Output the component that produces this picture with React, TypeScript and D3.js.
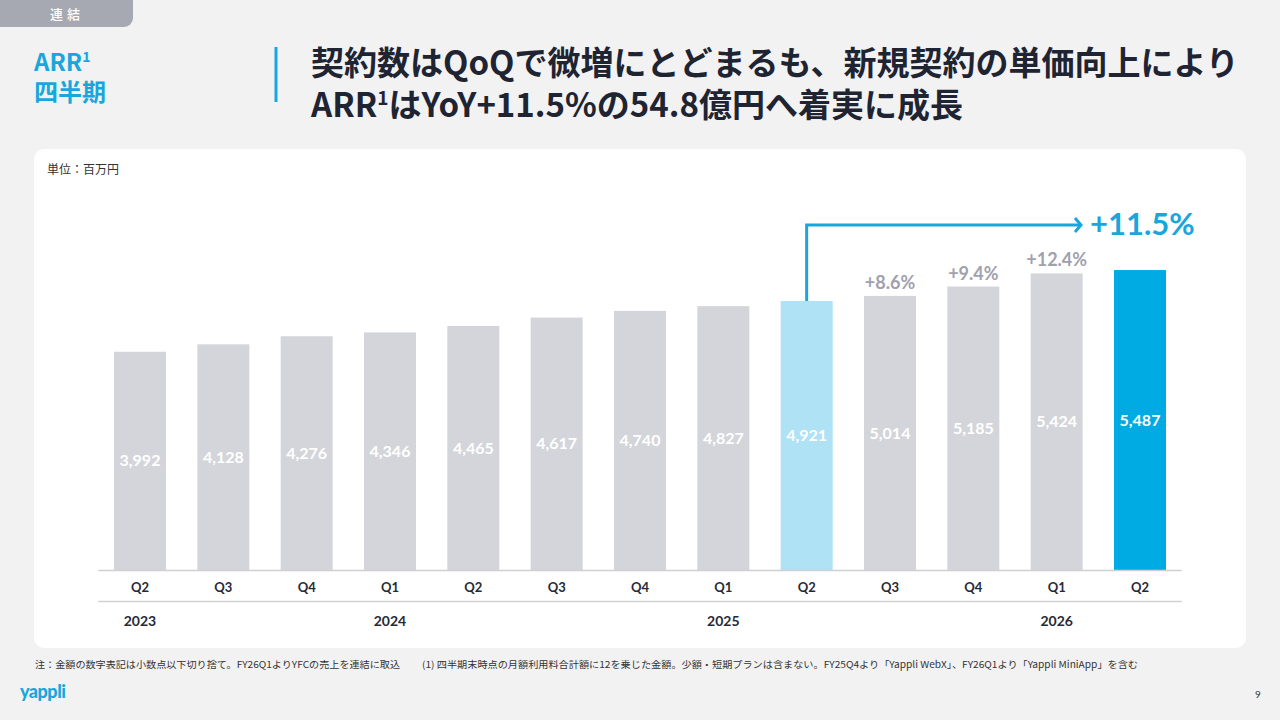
import React from 'react';
import * as d3 from 'd3';

// 四半期ARR（百万円）
const quarters = ['Q2', 'Q3', 'Q4', 'Q1', 'Q2', 'Q3', 'Q4', 'Q1', 'Q2', 'Q3', 'Q4', 'Q1', 'Q2'];
const arrValues = [3992, 4128, 4276, 4346, 4465, 4617, 4740, 4827, 4921, 5014, 5185, 5424, 5487];
const yearLabels = ['2023', '2024', '2025', '2026'];
const yearIndex = [0, 3, 7, 11];
const yoyLabels = ['', '', '', '', '', '', '', '', '', '+8.6%', '+9.4%', '+12.4%', ''];
const headline = '+11.5%';
const baseIndex = 8;
const lastIndex = 12;

const BLUE = '#1aa6dd';
const JP = '"Noto Sans CJK JP", "Noto Sans", sans-serif';
const NUM = 'Lato, "Noto Sans", sans-serif';

const App = () => {
  const x = d3.scaleBand<number>()
    .domain(d3.range(arrValues.length))
    .range([98.33, 1181.67])
    .paddingInner(0.376)
    .paddingOuter(0.188);

  const y = d3.scaleLinear().domain([0, 6000]).range([570, 242]);

  const cx = (i: number) => x(i)! + x.bandwidth() / 2;

  const barColor = (i: number) =>
    i === lastIndex ? '#00abe3' : i === baseIndex ? '#aee2f4' : '#d4d5da';

  const arrowY = 225;
  const arrowEnd = 1081;

  return (
    <svg width={1280} height={720} style={{ position: 'absolute', left: 0, top: 0 }}>
      <rect width={1280} height={720} fill="#f2f2f2" />

      {/* tab */}
      <rect x={-12} y={-12} width={145} height={39} rx={9} fill="#a6a8b2" />
      <text x={67} y={19} textAnchor="middle" fill="#fff" fontFamily={JP} fontWeight={500}
        fontSize={13} letterSpacing={4}>連結</text>

      {/* left heading */}
      <text x={34} y={71} fill={BLUE} fontFamily={JP} fontWeight={700} fontSize={24}>
        ARR<tspan fontSize={14} dy={-9}>1</tspan>
      </text>
      <text x={34} y={101} fill={BLUE} fontFamily={JP} fontWeight={700} fontSize={24}>四半期</text>
      <line x1={276} x2={276} y1={47} y2={102} stroke={BLUE} strokeWidth={3} />

      {/* title */}
      <text x={311} y={75} fill="#1f2433" fontFamily={JP} fontWeight={700} fontSize={33}>
        契約数はQoQで微増にとどまるも、新規契約の単価向上により
      </text>
      <text x={311} y={117} fill="#1f2433" fontFamily={JP} fontWeight={700} fontSize={33}>
        ARR<tspan fontSize={19} dy={-12}>1</tspan><tspan dy={12}>はYoY+11.5%の54.8億円へ着実に成長</tspan>
      </text>

      {/* card */}
      <rect x={34} y={149} width={1212} height={499} rx={10} fill="#ffffff" />
      <text x={47} y={174} fill="#333" fontFamily={JP} fontSize={12}>単位：百万円</text>

      {/* bars */}
      {arrValues.map((v, i) => (
        <rect key={`b${i}`} x={x(i)} y={y(v)} width={x.bandwidth()} height={y(0) - y(v)}
          fill={barColor(i)} />
      ))}
      {arrValues.map((v, i) => (
        <text key={`v${i}`} x={cx(i)} y={(y(v) + y(0)) / 2} dy="0.35em" textAnchor="middle"
          fill="#fff" fontFamily={NUM} fontWeight={700} fontSize={16}>
          {d3.format(',')(v)}
        </text>
      ))}
      {yoyLabels.map((t, i) => t ? (
        <text key={`g${i}`} x={cx(i)} y={y(arrValues[i]) - 7} textAnchor="middle"
          fill="#9fa1ad" fontFamily={NUM} fontWeight={700} fontSize={18}>{t}</text>
      ) : null)}

      {/* YoY arrow */}
      <path d={`M${cx(baseIndex)},${y(arrValues[baseIndex])}V${arrowY}H${arrowEnd}`}
        fill="none" stroke={BLUE} strokeWidth={3} />
      <path d={`M${arrowEnd - 6},${arrowY - 7}L${arrowEnd},${arrowY}L${arrowEnd - 6},${arrowY + 7}`}
        fill="none" stroke={BLUE} strokeWidth={3} />
      <text x={1090} y={235} fill={BLUE} fontFamily={NUM} fontWeight={700} fontSize={31}>{headline}</text>

      {/* axes */}
      <line x1={x.range()[0]} x2={x.range()[1]} y1={570.5} y2={570.5} stroke="#cfd0d4" strokeWidth={1.5} />
      <line x1={x.range()[0]} x2={x.range()[1]} y1={601.5} y2={601.5} stroke="#cfd0d4" strokeWidth={1.5} />
      {quarters.map((q, i) => (
        <text key={`q${i}`} x={cx(i)} y={592} textAnchor="middle" fill="#262a36"
          fontFamily={NUM} fontWeight={700} fontSize={13}>{q}</text>
      ))}
      {yearLabels.map((yl, k) => (
        <text key={`y${k}`} x={cx(yearIndex[k])} y={626} textAnchor="middle" fill="#262a36"
          fontFamily={NUM} fontWeight={700} fontSize={14}>{yl}</text>
      ))}

      {/* footnotes */}
      <text x={35} y={668} fill="#333" fontFamily={JP} fontSize={9.5} textLength={365} lengthAdjust="spacingAndGlyphs">
        注：金額の数字表記は小数点以下切り捨て。FY26Q1よりYFCの売上を連結に取込
      </text>
      <text x={422} y={668} fill="#333" fontFamily={JP} fontSize={9.5} textLength={716} lengthAdjust="spacingAndGlyphs">
        (1) 四半期末時点の月額利用料合計額に12を乗じた金額。少額・短期プランは含まない。FY25Q4より「Yappli WebX」、FY26Q1より「Yappli MiniApp」を含む
      </text>
      <text x={20} y={698} fill={BLUE} fontFamily={NUM} fontWeight={900} fontSize={18} letterSpacing={-0.5}>yappli</text>
      <text x={1255} y={698} fill="#333" fontFamily={NUM} fontSize={10}>9</text>
    </svg>
  );
};

export default App;
